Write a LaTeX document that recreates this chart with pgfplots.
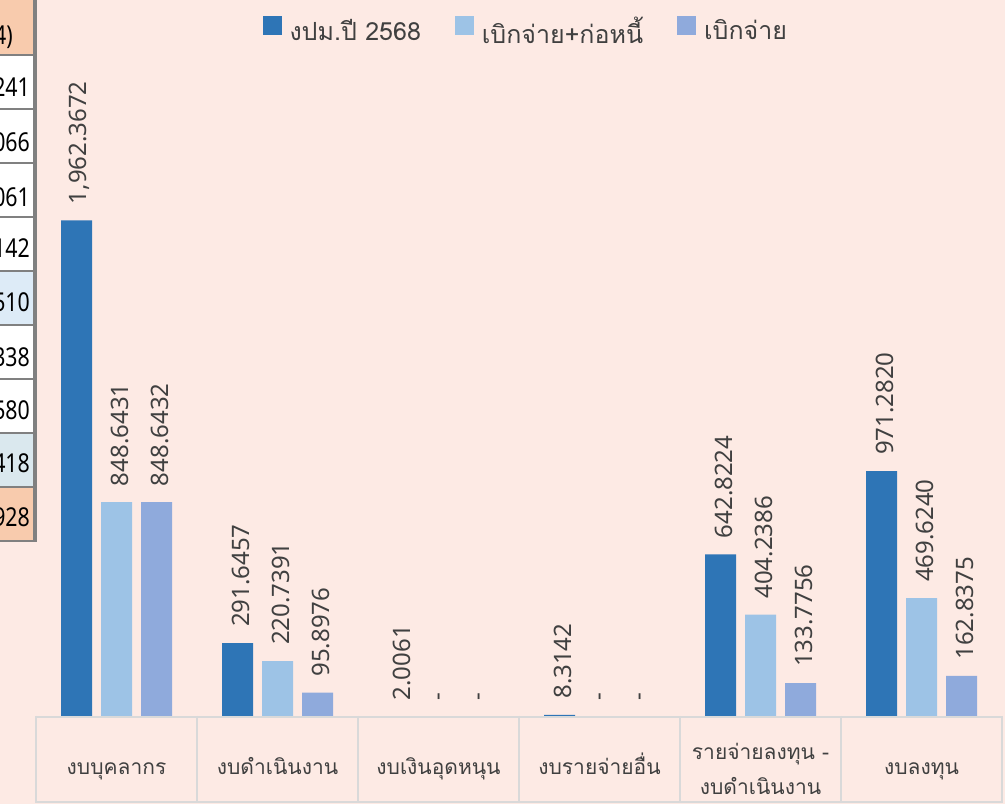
\documentclass[border=0pt]{standalone}
\usepackage{pgfplots}
\usepackage{pgfplotstable}
\pgfplotsset{compat=1.18}
\usepackage{fontspec}
\setmainfont{Noto Sans}
\newfontfamily\thai[Script=Thai]{Loma}
\definecolor{bg}{HTML}{FDEAE4}
\definecolor{cA}{HTML}{2E75B6}
\definecolor{cB}{HTML}{9DC3E6}
\definecolor{cC}{HTML}{8FAADC}
\definecolor{peach}{HTML}{F8CBAD}
\definecolor{rowblue}{HTML}{DDEBF7}
\definecolor{rowblueb}{HTML}{DAE8EE}
\definecolor{tgray}{HTML}{808080}
\definecolor{gridgray}{HTML}{D9D9D9}
\definecolor{txt}{HTML}{404040}

\pgfplotstableread{
x y lab
0.5 1962.3672 1,962.3672
1.5 291.6457 291.6457
2.5 2.0061 2.0061
3.5 8.3142 8.3142
4.5 642.8224 642.8224
5.5 971.2820 971.2820
}\budget
\pgfplotstableread{
x y lab
0.5 848.6431 848.6431
1.5 220.7391 220.7391
2.5 0 -
3.5 0 -
4.5 404.2386 404.2386
5.5 469.6240 469.6240
}\commit
\pgfplotstableread{
x y lab
0.5 848.6432 848.6432
1.5 95.8976 95.8976
2.5 0 -
3.5 0 -
4.5 133.7756 133.7756
5.5 162.8375 162.8375
}\spent

\begin{document}
\begin{tikzpicture}[x=1bp,y=1bp]
\useasboundingbox (0,0) rectangle (1005,804);
\fill[bg] (0,0) rectangle (1005,804);
% partial table at the left edge
\fill[peach] (0,804) rectangle (34,749);
\fill[white] (0,749) rectangle (34,533);
\fill[rowblue] (0,533) rectangle (34,479);
\fill[white] (0,479) rectangle (34,371);
\fill[rowblueb] (0,371) rectangle (34,317);
\fill[peach] (0,317) rectangle (34,263);
\foreach \yy in {749,695,641,587,533,479,425,371,317,263}
  \draw[tgray, line width=2.5bp] (0,\yy) -- (35,\yy);
\draw[tgray, line width=3.5bp] (35,804) -- (35,262);
\begin{scope}[every node/.style={anchor=east, inner sep=0pt, transform shape, xscale=0.82, font=\fontsize{26bp}{30bp}\selectfont}]
\node at (13,767) {4)};
\node at (30,717) {241};
\node at (30,662) {066};
\node at (30,607) {061};
\node at (30,556) {142};
\node at (30,502) {510};
\node at (30,447) {338};
\node at (30,394) {580};
\node at (30,341) {418};
\node at (30,287) {928};
\end{scope}

\begin{axis}[
  at={(36bp,87bp)}, anchor=south west,
  width=966bp, height=658bp, scale only axis,
  xmin=0, xmax=6, ymin=0, ymax=2600,
  axis line style={draw=none},
  ytick=\empty,
  xtick={0.5,1.5,2.5,3.5,4.5,5.5},
  xticklabels={งบบุคลากร, งบดำเนินงาน, งบเงินอุดหนุน, งบรายจ่ายอื่น, {\begin{tabular}{@{}c@{}}รายจ่ายลงทุน -\\งบดำเนินงาน\end{tabular}}, งบลงทุน},
  major tick length=0pt,
  x tick label style={font=\thai\fontsize{21bp}{35bp}\selectfont, anchor=base, yshift=-58bp, text=txt},
  ybar, bar width=31bp,
  clip=false,
  nodes near coords,
  point meta=explicit symbolic,
  nodes near coords style={xshift=3bp, rotate=90, anchor=west, inner xsep=16bp, inner ysep=0pt, font=\fontsize{24bp}{28bp}\selectfont, text=txt},
  legend columns=3,
  legend style={at={(0.507,1.043)}, anchor=center, draw=none, fill=none,
    font=\thai\fontsize{25bp}{29bp}\selectfont, text=txt,
    /tikz/every odd column/.append style={column sep=6bp},
    /tikz/every even column/.append style={column sep=32bp}},
  legend image code/.code={\fill[#1,draw=none] (0bp,-4bp) rectangle (19bp,15bp);},
]
\addplot[fill=cA, draw=none, bar shift=-40bp] table[x=x, y=y, meta=lab] {\budget};
\addplot[fill=cB, draw=none, bar shift=0bp] table[x=x, y=y, meta=lab] {\commit};
\addplot[fill=cC, draw=none, bar shift=40bp] table[x=x, y=y, meta=lab] {\spent};
\addlegendentry{งปม.ปี 2568}
\addlegendentry{เบิกจ่าย+ก่อหนี้}
\addlegendentry{เบิกจ่าย}
\end{axis}

% category frame
\draw[gridgray, line width=2bp] (36,87) -- (1002,87);
\draw[gridgray, line width=2bp] (36,2) -- (1002,2);
\foreach \xx in {36,197,358,519,680,841,1002}
  \draw[gridgray, line width=2bp] (\xx,88) -- (\xx,1);
\end{tikzpicture}
\end{document}
